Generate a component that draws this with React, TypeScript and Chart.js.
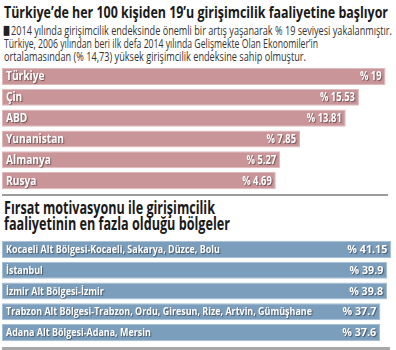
import React, { useEffect, useLayoutEffect, useRef } from 'react';
import { Chart, registerables } from 'chart.js';
Chart.register(...registerables);

const titleText = 'Türkiye’de her 100 kişiden 19’u girişimcilik faaliyetine başlıyor';
const introMark = '■';
const introLines = [
  '2014 yılında girişimcilik endeksinde önemli bir artış yaşanarak % 19 seviyesi yakalanmıştır.',
  'Türkiye, 2006 yılından beri ilk defa 2014 yılında Gelişmekte Olan Ekonomiler’in',
  'ortalamasından (% 14,73) yüksek girişimcilik endeksine sahip olmuştur.',
];
const countries = ['Türkiye', 'Çin', 'ABD', 'Yunanistan', 'Almanya', 'Rusya'];
const countryRates = [19, 15.53, 13.81, 7.85, 5.27, 4.69];

const regionTitleLines = ['Fırsat motivasyonu ile girişimcilik', 'faaliyetinin en fazla olduğu bölgeler'];
const regions = [
  'Kocaeli Alt Bölgesi-Kocaeli, Sakarya, Düzce, Bolu',
  'İstanbul',
  'İzmir Alt Bölgesi-İzmir',
  'Trabzon Alt Bölgesi-Trabzon, Ordu, Giresun, Rize, Artvin, Gümüşhane',
  'Adana Alt Bölgesi-Adana, Mersin',
];
const regionRates = [41.15, 39.9, 39.8, 37.7, 37.6];

const FONT = '"Open Sans", "Noto Sans", sans-serif';
const fmt = (v: number) => '% ' + String(v);

function FitText(props: { text: string; left: number; top: number; width: number; size: number; weight: number; color: string; family?: string }) {
  const ref = useRef<HTMLSpanElement>(null);
  useLayoutEffect(() => {
    const el = ref.current;
    if (!el) return;
    el.style.transform = 'none';
    const w = el.getBoundingClientRect().width;
    if (w > 0) el.style.transform = `scaleX(${props.width / w})`;
  }, [props.text, props.width]);
  return (
    <span
      ref={ref}
      style={{
        position: 'absolute', left: props.left, top: props.top, fontSize: props.size,
        fontWeight: props.weight, color: props.color, fontFamily: props.family || FONT, lineHeight: 1,
        whiteSpace: 'nowrap', transformOrigin: '0 0', display: 'inline-block',
      }}
    >
      {props.text}
    </span>
  );
}

const barTextPlugin = {
  id: 'barText',
  afterDatasetsDraw(chart: any, _args: any, opts: any) {
    const ctx = chart.ctx as CanvasRenderingContext2D;
    const meta = chart.getDatasetMeta(0);
    const labels = chart.data.labels as string[];
    const data = chart.data.datasets[0].data as number[];
    ctx.save();
    ctx.font = opts.font;
    const lsx = opts.labelWidth / ctx.measureText(labels[opts.labelRef]).width;
    const vsx = opts.valueWidth / ctx.measureText(fmt(data[opts.valueRef])).width;
    ctx.fillStyle = '#ffffff';
    ctx.textBaseline = 'middle';
    ctx.shadowColor = 'rgba(0,0,0,0.45)';
    ctx.shadowOffsetX = 1;
    ctx.shadowOffsetY = 1;
    ctx.shadowBlur = 1;
    meta.data.forEach((bar: any, i: number) => {
      const y = bar.y + 0.5;
      ctx.save();
      ctx.translate(chart.chartArea.left + 4, y);
      ctx.scale(lsx, 1);
      ctx.textAlign = 'left';
      ctx.fillText(labels[i], 0, 0);
      ctx.restore();
      ctx.save();
      ctx.translate(bar.x - 4, y);
      ctx.scale(vsx, 1);
      ctx.textAlign = 'right';
      ctx.fillText(fmt(data[i]), 0, 0);
      ctx.restore();
    });
    ctx.restore();
  },
};

function BarPanel(props: {
  labels: string[]; values: number[]; top: number; height: number; min: number; max: number;
  fill: string; border: string; font: string; labelRef: number; labelWidth: number; valueRef: number; valueWidth: number;
}) {
  const ref = useRef<HTMLCanvasElement>(null);
  useEffect(() => {
    if (!ref.current) return;
    const chart = new Chart(ref.current, {
      type: 'bar',
      data: {
        labels: props.labels,
        datasets: [{
          data: props.values,
          base: props.min,
          backgroundColor: props.fill,
          borderColor: props.border,
          borderWidth: 1,
          borderSkipped: false,
          categoryPercentage: 1,
          barPercentage: 0.82,
        } as any],
      },
      options: {
        indexAxis: 'y',
        responsive: false,
        animation: false,
        layout: { padding: { left: 2, right: 2, top: 0, bottom: 0 } },
        scales: {
          x: { display: false, min: props.min, max: props.max },
          y: { display: false },
        },
        plugins: {
          legend: { display: false },
          tooltip: { enabled: false },
          barText: {
            font: props.font, labelRef: props.labelRef, labelWidth: props.labelWidth,
            valueRef: props.valueRef, valueWidth: props.valueWidth,
          },
        } as any,
      },
      plugins: [barTextPlugin],
    });
    return () => chart.destroy();
  }, []);
  return (
    <canvas
      ref={ref}
      width={396}
      height={props.height}
      style={{ position: 'absolute', left: 0, top: props.top, width: 396, height: props.height }}
    />
  );
}

export default function App() {
  useEffect(() => {
    document.body.style.margin = '0';
  }, []);
  return (
    <div style={{ position: 'relative', width: 396, height: 350, background: '#ffffff', overflow: 'hidden' }}>
      <FitText text={titleText} left={4} top={4} width={384} size={16} weight={700} color="#1a1a1a" />
      <FitText text={introMark} left={3} top={23} width={7} size={13} weight={400} color="#222222" family='"DejaVu Sans", sans-serif' />
      <FitText text={introLines[0]} left={11} top={25} width={381} size={12.5} weight={400} color="#333333" />
      <FitText text={introLines[1]} left={4} top={38.2} width={314} size={12.5} weight={400} color="#333333" />
      <FitText text={introLines[2]} left={4} top={51.2} width={302} size={12.5} weight={400} color="#333333" />
      <BarPanel
        labels={countries} values={countryRates} top={66} height={125} min={-31} max={20.1}
        fill="rgb(202,149,153)" border="rgb(222,186,189)" font={`bold 12.5px ${FONT}`}
        labelRef={3} labelWidth={58} valueRef={1} valueWidth={35}
      />
      <div style={{ position: 'absolute', left: 2, top: 194, width: 386, height: 2, background: '#9c9c9c' }} />
      <FitText text={regionTitleLines[0]} left={4} top={199.2} width={211} size={17} weight={700} color="#1a1a1a" />
      <FitText text={regionTitleLines[1]} left={4} top={214.9} width={226} size={17} weight={700} color="#1a1a1a" />
      <BarPanel
        labels={regions} values={regionRates} top={239} height={104} min={-82} max={42}
        fill="rgb(124,158,189)" border="rgb(165,191,213)" font={`bold 11px ${FONT}`}
        labelRef={3} labelWidth={306} valueRef={0} valueWidth={40}
      />
      <div style={{ position: 'absolute', left: 2, top: 347, width: 388, height: 3, background: '#a8a8a8' }} />
    </div>
  );
}
